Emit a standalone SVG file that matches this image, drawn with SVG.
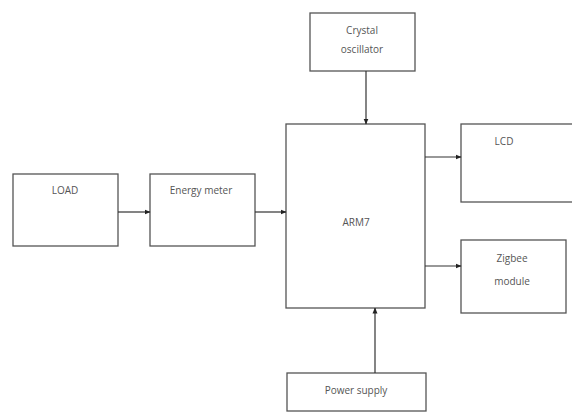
<svg xmlns="http://www.w3.org/2000/svg" width="572" height="412" viewBox="0 0 572 412">
<defs>
<style>
.box{fill:#fff;stroke:#555;stroke-width:1.3}
.ln{stroke:#333;stroke-width:1.2;fill:none}
text{font-family:"Open Sans","Liberation Sans",sans-serif;font-size:10px;fill:#555;text-anchor:middle}
</style>
<marker id="ah" markerWidth="6" markerHeight="6" refX="5.5" refY="3" orient="auto" markerUnits="userSpaceOnUse">
<path d="M0,0.5 L6,3 L0,5.5 Z" fill="#222"/>
</marker>
</defs>
<rect width="572" height="412" fill="#fff"/>
<g id="crystal"><rect class="box" x="310" y="13" width="105" height="58"/><text x="362" y="34">Crystal</text><text x="362" y="53">oscillator</text></g>
<g id="arm7"><rect class="box" x="286" y="124" width="139" height="184"/><text x="356" y="226">ARM7</text></g>
<g id="lcd"><rect class="box" x="461" y="124" width="115" height="78"/><text x="504" y="145">LCD</text></g>
<g id="zigbee"><rect class="box" x="461" y="240" width="105" height="73"/><text x="512" y="262">Zigbee</text><text x="512" y="285">module</text></g>
<g id="load"><rect class="box" x="13" y="174" width="105" height="72"/><text x="65" y="194">LOAD</text></g>
<g id="energy"><rect class="box" x="150" y="174" width="105" height="72"/><text x="201" y="194">Energy meter</text></g>
<g id="power"><rect class="box" x="287" y="373" width="139" height="38"/><text x="356" y="394">Power supply</text></g>
<g id="connectors">
<line class="ln" x1="366" y1="71" x2="366" y2="124" marker-end="url(#ah)"/>
<line class="ln" x1="118" y1="212" x2="150" y2="212" marker-end="url(#ah)"/>
<line class="ln" x1="255" y1="212" x2="286" y2="212" marker-end="url(#ah)"/>
<line class="ln" x1="425" y1="157" x2="461" y2="157" marker-end="url(#ah)"/>
<line class="ln" x1="425" y1="266" x2="461" y2="266" marker-end="url(#ah)"/>
<line class="ln" x1="375" y1="373" x2="375" y2="308" marker-end="url(#ah)"/>
</g>
</svg>
